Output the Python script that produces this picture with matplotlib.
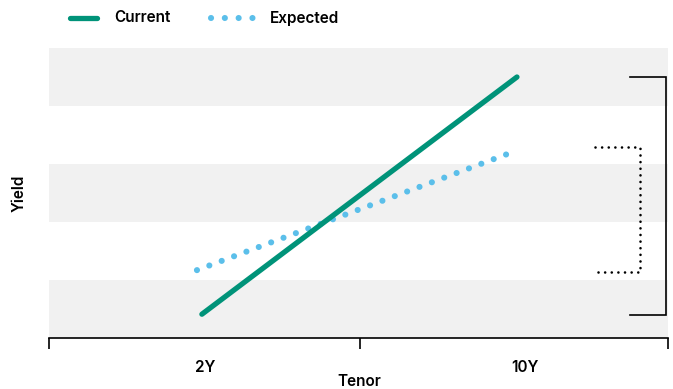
import matplotlib
matplotlib.use("Agg")
import matplotlib.pyplot as plt
from matplotlib.lines import Line2D

# ---- data (arbitrary yield units 0-5) ----
tenor_labels = ["2Y", "10Y"]
tenor_pos = [25.2, 76.9]
current_x = [24.7, 75.6]
current_y = [0.41, 4.50]
expected_x = [23.9, 74.5]
expected_y = [1.17, 3.19]
bracket_solid_y = [0.40, 4.50]
bracket_dotted_y = [1.14, 3.29]

TEAL = "#009379"
BLUE = "#5BBFEA"
GRAY = "#F1F1F1"
FS = 11

plt.rcParams['font.family'] = ['Inter', 'DejaVu Sans']

fig = plt.figure(figsize=(6.73, 3.89), dpi=100)
ax = fig.add_axes([49/673, 1-338/389, 619/673, 290/389])
ax.set_xlim(0, 100)
ax.set_ylim(0, 5)

for lo in (0, 2, 4):
    ax.axhspan(lo, lo+1, color=GRAY, lw=0, zorder=0)

ax.plot(current_x, current_y, color=TEAL, lw=3.8, solid_capstyle='round', zorder=3)
ax.plot(expected_x, expected_y, color=BLUE, lw=4.4, linestyle=(0, (0.01, 2.15)),
        dash_capstyle='round', zorder=2)

# right brackets
ax.plot([93.9, 99.7, 99.7, 93.9],
        [bracket_solid_y[1], bracket_solid_y[1], bracket_solid_y[0], bracket_solid_y[0]],
        color='black', lw=1.2, solid_joinstyle='miter', clip_on=False)
ax.plot([88.2, 95.5, 95.5, 88.7],
        [bracket_dotted_y[1], bracket_dotted_y[1], bracket_dotted_y[0], bracket_dotted_y[0]],
        color='black', lw=1.9, linestyle=(0, (0.01, 2.5)), dash_capstyle='round', clip_on=False)

for s in ("top", "right", "left"):
    ax.spines[s].set_visible(False)
ax.spines["bottom"].set_linewidth(1.2)
ax.set_yticks([])
ax.set_xticks([0, 50.2, 100])
ax.set_xticklabels([])
ax.tick_params(axis='x', direction='out', length=8, width=1.2, color='black')
for p, lab in zip(tenor_pos, tenor_labels):
    ax.text(p, -0.5, lab, ha='center', va='center', fontsize=FS, fontweight='semibold',
            transform=ax.transData, clip_on=False)
ax.text(50.2, -0.75, "Tenor", ha='center', va='center', fontsize=FS, fontweight='semibold',
        clip_on=False)
fig.text(19/673, 1-193/389, "Yield", rotation=90, ha='center', va='center',
         fontsize=FS, fontweight='semibold')

# legend
ly = 1-18/389
fig.add_artist(Line2D([70/673, 97/673], [ly, ly], color=TEAL, lw=3.8,
                      solid_capstyle='round', transform=fig.transFigure))
fig.text(114/673, ly, "Current", ha='left', va='center', fontsize=FS, fontweight='semibold')
fig.add_artist(Line2D([211/673, 253/673], [ly, ly], color=BLUE, lw=4.4,
                      linestyle=(0, (0.01, 2.25)), dash_capstyle='round',
                      transform=fig.transFigure))
fig.text(270/673, ly, "Expected", ha='left', va='center', fontsize=FS, fontweight='semibold')

fig.savefig("out.png", dpi=100)
